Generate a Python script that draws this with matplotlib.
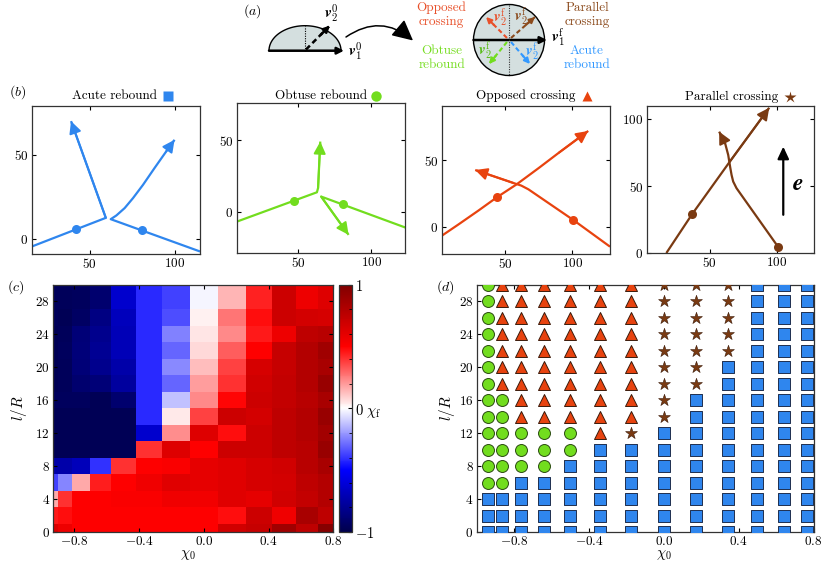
import numpy as np
import matplotlib
matplotlib.use('Agg')
import matplotlib.pyplot as plt
from matplotlib.patches import FancyArrowPatch, Circle, Polygon
from matplotlib.ticker import MultipleLocator, FixedLocator, FuncFormatter

# ---------------- data ----------------
# panel (b): trajectories in units of R
acute_t1_x = [16.0, 59.5, 39.0]
acute_t1_y = [-4.5, 12.5, 70.0]
acute_t2_x = [115.0, 62.4, 65.7, 70.6, 75.5, 81.4, 88.2, 95.1, 100.0]
acute_t2_y = [-7.5, 11.7, 13.9, 18.3, 24.2, 32.1, 42.1, 52.0, 58.9]
acute_dots_x = [42.0, 81.0]
acute_dots_y = [5.8, 5.0]

obtuse_t1_x = [8.0, 62.7, 63.5, 65.0]
obtuse_t1_y = [-7.0, 13.5, 16.5, 49.0]
obtuse_t2_x = [123.3, 65.6, 84.4]
obtuse_t2_y = [-11.2, 10.5, -16.3]
obtuse_dots_x = [47.2, 80.5]
obtuse_dots_y = [7.7, 5.1]

opposed_t1_x = [3.0, 15.0, 30.0, 43.8, 58.6, 75.0, 90.0, 111.8]
opposed_t1_y = [-6.7, 1.5, 12.0, 22.0, 31.8, 44.0, 55.5, 71.8]
opposed_t2_x = [128.0, 100.7, 67.3, 62.0, 56.0, 27.7]
opposed_t2_y = [-15.0, 5.0, 28.0, 30.8, 32.8, 42.5]
opposed_dots_x = [43.8, 100.7]
opposed_dots_y = [22.0, 5.0]

parallel_t1_x = [17.5, 36.8, 65.0, 94.5]
parallel_t1_y = [0.0, 29.1, 68.4, 108.7]
parallel_t2_x = [101.2, 70.0, 67.5, 66.3, 65.3, 63.8, 61.5, 57.0]
parallel_t2_y = [4.5, 48.5, 53.5, 58.4, 64.0, 73.3, 82.0, 90.8]
parallel_dots_x = [36.8, 101.2]
parallel_dots_y = [29.1, 4.5]
field_x = [105.0, 105.0]
field_y = [28.6, 79.6]

# panels (c),(d): grid
chi0 = [-0.940, -0.866, -0.766, -0.643, -0.500, -0.342, -0.174,
        0.000, 0.174, 0.342, 0.500, 0.643, 0.766]
lR_c = [0, 2, 4, 6, 8, 10, 12, 14, 16, 18, 20, 22, 24, 26, 28]
chi_f = [
    [0.63, 0.57, 0.50, 0.50, 0.50, 0.50, 0.50, 0.50, 0.68, 0.72, 0.87, 0.75, 0.97],
    [0.45, 0.47, 0.50, 0.50, 0.50, 0.50, 0.50, 0.50, 0.47, 0.70, 0.56, 0.84, 0.75],
    [0.17, 0.40, 0.50, 0.50, 0.52, 0.52, 0.56, 0.55, 0.62, 0.60, 0.68, 0.73, 0.79],
    [-0.37, -0.24, 0.17, 0.44, 0.50, 0.56, 0.62, 0.60, 0.62, 0.66, 0.67, 0.75, 0.79],
    [-0.74, -0.74, -0.69, -0.40, 0.40, 0.50, 0.52, 0.60, 0.62, 0.66, 0.68, 0.78, 0.84],
    [-0.97, -0.97, -0.97, -0.97, -0.97, 0.40, 0.63, 0.50, 0.70, 0.70, 0.75, 0.78, 0.90],
    [-0.97, -0.97, -0.97, -0.97, -0.97, -0.64, 0.22, 0.63, 0.47, 0.70, 0.75, 0.79, 0.86],
    [-0.97, -0.97, -0.97, -0.97, -0.97, -0.42, 0.04, 0.37, 0.70, 0.67, 0.75, 0.79, 0.90],
    [-0.95, -0.95, -0.95, -0.97, -0.90, -0.42, -0.12, 0.23, 0.49, 0.70, 0.73, 0.78, 0.84],
    [-0.97, -0.96, -0.90, -0.88, -0.77, -0.42, -0.30, 0.19, 0.40, 0.68, 0.73, 0.79, 0.90],
    [-0.97, -0.96, -0.88, -0.82, -0.74, -0.42, -0.23, 0.125, 0.37, 0.66, 0.72, 0.79, 0.84],
    [-0.97, -0.95, -0.87, -0.80, -0.70, -0.42, -0.30, 0.075, 0.32, 0.50, 0.72, 0.79, 0.87],
    [-0.97, -0.96, -0.88, -0.82, -0.70, -0.42, -0.25, 0.05, 0.23, 0.45, 0.57, 0.75, 0.78],
    [-0.96, -0.97, -0.93, -0.85, -0.68, -0.42, -0.35, 0.03, 0.27, 0.47, 0.70, 0.67, 0.66],
    [-0.96, -0.96, -0.95, -0.90, -0.64, -0.42, -0.37, -0.02, 0.145, 0.43, 0.70, 0.57, 0.63],
]
lR_d = [0, 2, 4, 6, 8, 10, 12, 14, 16, 18, 20, 22, 24, 26, 28, 30]
# A = acute rebound, O = obtuse rebound, C = opposed crossing, P = parallel crossing
regime_rows = [
    "AAAAAAAAAAAAA",
    "AAAAAAAAAAAAA",
    "AAAAAAAAAAAAA",
    "OOAAAAAAAAAAA",
    "OOOOAAAAAAAAA",
    "OOOOOAAAAAAAA",
    "OOOOOCPAAAAAA",
    "OOCCCCCPAAAAA",
    "OOCCCCCPAAAAA",
    "OCCCCCCPPAAAA",
    "OCCCCCCPPAAAA",
    "OCCCCCCPPPAAA",
    "OCCCCCCPPPAAA",
    "OCCCCCCPPPAAA",
    "OCCCCCCPPPAAA",
    "OCCCCCCPPPAAA",
]

# ---------------- style ----------------
plt.rcParams.update({
    'font.family': ['cmr10', 'DejaVu Sans'],
    'mathtext.fontset': 'cm',
    'axes.unicode_minus': False,
    'font.size': 9.5,
    'xtick.direction': 'in', 'ytick.direction': 'in',
    'xtick.top': True, 'ytick.right': True,
    'xtick.major.size': 3.0, 'ytick.major.size': 3.0,
    'xtick.major.width': 0.8, 'ytick.major.width': 0.8,
    'xtick.labelsize': 9.5, 'ytick.labelsize': 9.5,
    'axes.linewidth': 0.9, 'axes.edgecolor': '#333333',
})

BLUE = '#2f86ee'
GREEN = '#72dd1e'
ORANGE = '#e8430f'
BROWN = '#7a3a12'
FILL = '#d4dfdf'

W, H = 830, 563


def _ok(s, **kw):
    f = plt.figure()
    try:
        f.text(0.1, 0.1, s, **kw)
        f.canvas.draw()
        res = True
    except Exception:
        res = False
    plt.close(f)
    return res


if _ok(r'$\mathbfit{v}_1^0$'):
    BV, MKW = r'\mathbfit{v}', {}
    BE = r'\mathbfit{e}'
elif _ok(r'$\mathbfit{v}_1^0$', math_fontfamily='stix'):
    BV, MKW = r'\mathbfit{v}', {'math_fontfamily': 'stix'}
    BE = r'\mathbfit{e}'
else:
    BV, MKW = r'\mathbf{v}', {}
    BE = r'\mathbf{e}'

fig = plt.figure(figsize=(W / 100, H / 100), dpi=100)


def px_axes(l, t, r, b):
    return fig.add_axes([l / W, 1 - b / H, (r - l) / W, (b - t) / H])


def fmt1(v, p):
    s = f'{v:.1f}'
    if s == '-0.0':
        s = '0.0'
    return f'${s}$'


def fmt0(v, p):
    return f'${v:.0f}$'


# ---------------- panel (a) ----------------
axa = fig.add_axes([0, 1 - 85 / H, 1, 85 / H])
axa.set_xlim(0, W)
axa.set_ylim(85, 0)
axa.axis('off')


def arrow(ax, p0, p1, color, lw, ms, dashed=False, style='-|>', **kw):
    if dashed:
        ax.plot([p0[0], p1[0]], [p0[1], p1[1]], color=color, lw=lw,
                dashes=(2.2, 1.4), solid_capstyle='butt')
        f = 0.62
        p0 = (p0[0] + f * (p1[0] - p0[0]), p0[1] + f * (p1[1] - p0[1]))
    a = FancyArrowPatch(p0, p1, arrowstyle=style, mutation_scale=ms,
                        color=color, lw=lw, shrinkA=0, shrinkB=0,
                        clip_on=False, **kw)
    ax.add_patch(a)


axa.text(252, 11, r'$(a)$', ha='center', va='center', fontsize=10)
t = np.linspace(0, np.pi, 120)
axa.add_patch(Polygon(np.c_[305 + 36 * np.cos(t), 50.7 - 25 * np.sin(t)],
                      closed=True, fc=FILL, ec='k', lw=1.0))
axa.plot([305, 305], [50.7, 25.7], color='k', lw=0.8, ls=(0, (1, 1.2)))
arrow(axa, (269, 50.7), (344, 50.7), 'k', 1.8, 10)
arrow(axa, (306, 49.5), (330, 25.5), 'k', 1.8, 9, dashed=True)
axa.text(331, 14, rf'${BV}_2^0$', ha='center', va='center', fontsize=11, **MKW)
axa.text(355, 52, rf'${BV}_1^0$', ha='center', va='center', fontsize=11, **MKW)
arrow(axa, (346, 37), (413, 40.5), 'k', 1.1, 14,
      style='-|>,head_length=0.9,head_width=0.45',
      connectionstyle='arc3,rad=-0.38')

axa.add_patch(Circle((509, 40), 35.5, fc=FILL, ec='k', lw=1.0))
axa.plot([509, 509], [4.5, 75.5], color='#333333', lw=0.8, ls=(0, (1, 1.2)))
arrow(axa, (473.5, 40), (547, 40), 'k', 1.8, 10)
axa.text(558, 38, rf'${BV}_1^{{\rm f}}$', ha='center', va='center', fontsize=11, **MKW)
arrow(axa, (507, 38), (486, 17), '#e8502a', 1.5, 8, dashed=True)
arrow(axa, (511, 38), (535, 17), '#8b4a1c', 1.5, 8, dashed=True)
arrow(axa, (507, 42), (489, 64), GREEN, 1.5, 8, dashed=True)
arrow(axa, (511, 42), (530, 64), '#3399ff', 1.5, 8, dashed=True)
axa.text(500, 17, rf'${BV}_2^{{\rm f}}$', ha='center', va='center', fontsize=10.5, color='#e8502a', **MKW)
axa.text(521, 16, rf'${BV}_2^{{\rm f}}$', ha='center', va='center', fontsize=10.5, color='#8b4a1c', **MKW)
axa.text(485, 50, rf'${BV}_2^{{\rm f}}$', ha='center', va='center', fontsize=10.5, color='#55bb11', **MKW)
axa.text(532, 51, rf'${BV}_2^{{\rm f}}$', ha='center', va='center', fontsize=10.5, color='#3399ff', **MKW)

axa.text(441, 15, 'Opposed\ncrossing', ha='center', va='center', fontsize=9.5,
         color='#e8502a', linespacing=1.25)
axa.text(442, 58, 'Obtuse\nrebound', ha='center', va='center', fontsize=9.5,
         color='#77dd22', linespacing=1.25)
axa.text(587, 15, 'Parallel\ncrossing', ha='center', va='center', fontsize=9.5,
         color='#8b4a1c', linespacing=1.25)
axa.text(587, 58, 'Acute\nrebound', ha='center', va='center', fontsize=9.5,
         color='#3399ff', linespacing=1.25)

# ---------------- panel (b) ----------------
panels_b = [
    dict(box=(32, 106, 200, 254), xlim=(16, 115), ylim=(-9, 79),
         trajs=[(acute_t1_x, acute_t1_y), (acute_t2_x, acute_t2_y)],
         dots=(acute_dots_x, acute_dots_y), color=BLUE, yt=[0, 50],
         title='Acute rebound', tx=0.744, mx=0.81, ty=1.07, marker='s'),
    dict(box=(237, 103, 405, 253), xlim=(8, 123), ylim=(-29, 76),
         trajs=[(obtuse_t1_x, obtuse_t1_y), (obtuse_t2_x, obtuse_t2_y)],
         dots=(obtuse_dots_x, obtuse_dots_y), color=GREEN, yt=[0, 50],
         title='Obtuse rebound', tx=0.772, mx=0.827, ty=1.05, marker='o'),
    dict(box=(442, 106, 610, 254), xlim=(3, 128), ylim=(-20.5, 90.5),
         trajs=[(opposed_t1_x, opposed_t1_y), (opposed_t2_x, opposed_t2_y)],
         dots=(opposed_dots_x, opposed_dots_y), color=ORANGE, yt=[0, 50],
         title='Opposed crossing', tx=0.796, mx=0.862, ty=1.07, marker='^'),
    dict(box=(647, 106, 814, 253), xlim=(3, 128), ylim=(0, 110),
         trajs=[(parallel_t1_x, parallel_t1_y), (parallel_t2_x, parallel_t2_y)],
         dots=(parallel_dots_x, parallel_dots_y), color=BROWN, yt=[0, 50, 100],
         title='Parallel crossing', tx=0.786, mx=0.856, ty=1.063, marker='*'),
]

for i, P in enumerate(panels_b):
    ax = px_axes(*P['box'])
    c = P['color']
    for tx_, ty_ in P['trajs']:
        ax.plot(tx_, ty_, color=c, lw=1.6, solid_joinstyle='round',
                solid_capstyle='butt')
        a = FancyArrowPatch((tx_[-2], ty_[-2]), (tx_[-1], ty_[-1]),
                            arrowstyle='-|>,head_length=0.6,head_width=0.3',
                            mutation_scale=12, color=c, lw=1.4,
                            shrinkA=0, shrinkB=0, clip_on=False)
        ax.add_patch(a)
    ax.plot(P['dots'][0], P['dots'][1], 'o', color=c, ms=6.5, mec='none')
    ax.set_xlim(*P['xlim'])
    ax.set_ylim(*P['ylim'])
    ax.xaxis.set_major_locator(FixedLocator([50, 100]))
    ax.yaxis.set_major_locator(FixedLocator(P['yt']))
    ax.xaxis.set_major_formatter(FuncFormatter(fmt0))
    ax.yaxis.set_major_formatter(FuncFormatter(fmt0))
    ax.tick_params(pad=2.5)
    ax.text(P['tx'], P['ty'], P['title'], transform=ax.transAxes,
            ha='right', va='center', fontsize=9.5)
    ms = 9 if P['marker'] == '*' else 7.5
    ax.plot([P['mx']], [P['ty']], marker=P['marker'], color=c, ms=ms,
            mec='none', transform=ax.transAxes, clip_on=False)
    if i == 3:
        a = FancyArrowPatch((field_x[0], field_y[0]), (field_x[1], field_y[1]),
                            arrowstyle='-|>,head_length=0.6,head_width=0.28',
                            mutation_scale=12, color='k', lw=1.6,
                            shrinkA=0, shrinkB=0)
        ax.add_patch(a)
        ax.text(116, 52, rf'${BE}$', fontsize=17, ha='center', va='center', **MKW)

fig.text(9 / W, 1 - 92 / H, r'$(b)$', ha='left', va='center', fontsize=10)

# ---------------- panel (c) ----------------
chi0_a = np.array(chi0)
lRc_a = np.array(lR_c, dtype=float)
x_edges = np.concatenate([[chi0_a[0] - (chi0_a[1] - chi0_a[0]) / 2],
                          (chi0_a[:-1] + chi0_a[1:]) / 2,
                          [chi0_a[-1] + (chi0_a[-1] - chi0_a[-2]) / 2]])
y_edges = np.concatenate([[lRc_a[0] - 1], (lRc_a[:-1] + lRc_a[1:]) / 2,
                          [lRc_a[-1] + 3]])

axc = px_axes(53.3, 284.7, 333.3, 532)
mesh = axc.pcolormesh(x_edges, y_edges, np.array(chi_f), cmap='seismic',
                      vmin=-1, vmax=1, shading='flat', edgecolors='face',
                      linewidth=0)
axc.set_xlim(-0.93, 0.8)
axc.set_ylim(0, 30)
axc.xaxis.set_major_locator(FixedLocator([-0.8, -0.4, 0.0, 0.4, 0.8]))
axc.yaxis.set_major_locator(FixedLocator([0, 4, 8, 12, 16, 20, 24, 28]))
axc.xaxis.set_major_formatter(FuncFormatter(fmt1))
axc.yaxis.set_major_formatter(FuncFormatter(fmt0))
axc.tick_params(pad=2.5)
axc.set_xlabel(r'$\chi_0$', fontsize=10.5)
axc.xaxis.set_label_coords(0.481, -0.065)
axc.set_ylabel(r'$l/R$', fontsize=11)
axc.yaxis.set_label_coords(-0.088, 0.5)

cax = px_axes(339.3, 284.7, 352, 532)
cb = fig.colorbar(mesh, cax=cax)
cb.set_ticks([-1, 0, 1])
cb.set_ticklabels([r'$-1$', r'$0\ \chi_{\rm f}$', r'$1$'])
cb.ax.yaxis.set_minor_locator(MultipleLocator(0.2))
cb.ax.tick_params(which='major', direction='in', length=3, labelsize=10.5, pad=2)
cb.ax.tick_params(which='minor', direction='in', length=2, right=True, left=False)
cb.outline.set_linewidth(0.9)
cb.outline.set_edgecolor('#333333')

fig.text(7 / W, 1 - 287 / H, r'$(c)$', ha='left', va='center', fontsize=10)

# ---------------- panel (d) ----------------
axd = px_axes(477, 284.7, 813.5, 532)
styles = {
    'A': dict(marker='s', c=BLUE, s=68, edgecolors='#1f2f4f', linewidths=0.7),
    'O': dict(marker='o', c=GREEN, s=74, edgecolors='#2a4a10', linewidths=0.7),
    'C': dict(marker='^', c=ORANGE, s=74, edgecolors='#3a1a0a', linewidths=0.7),
    'P': dict(marker='*', c=BROWN, s=80, edgecolors='#3a1a08', linewidths=0.4),
}
for key, st in styles.items():
    xs, ys = [], []
    for j, row in enumerate(regime_rows):
        for k, ch in enumerate(row):
            if ch == key:
                xs.append(chi0[k])
                ys.append(lR_d[j])
    axd.scatter(xs, ys, zorder=3, **st)
axd.set_xlim(-1.0, 0.8)
axd.set_ylim(0, 30)
axd.xaxis.set_major_locator(FixedLocator([-0.8, -0.4, 0.0, 0.4, 0.8]))
axd.yaxis.set_major_locator(FixedLocator([0, 4, 8, 12, 16, 20, 24, 28]))
axd.xaxis.set_major_formatter(FuncFormatter(fmt1))
axd.yaxis.set_major_formatter(FuncFormatter(fmt0))
axd.tick_params(pad=2.5)
axd.set_xlabel(r'$\chi_0$', fontsize=10.5)
axd.xaxis.set_label_coords(0.554, -0.065)
axd.set_ylabel(r'$l/R$', fontsize=11)
axd.yaxis.set_label_coords(-0.06, 0.5)

fig.text(445 / W, 1 - 287 / H, r'$(d)$', ha='center', va='center', fontsize=10)

fig.savefig('out.png', dpi=100)
